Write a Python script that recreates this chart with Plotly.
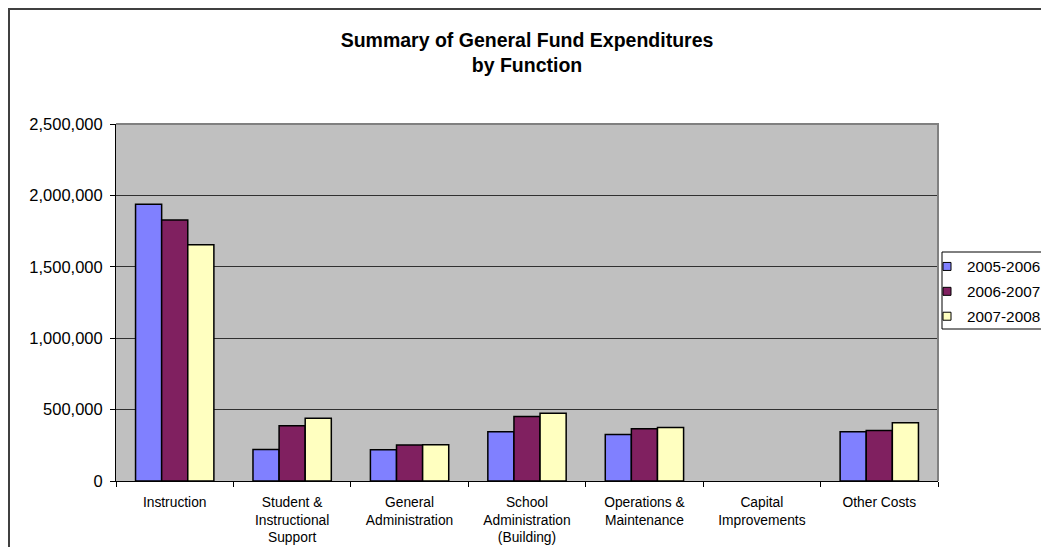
import plotly.graph_objects as go

# data
categories = ['Instruction', 'Student &<br>Instructional<br>Support', 'General<br>Administration',
              'School<br>Administration<br>(Building)', 'Operations &<br>Maintenance',
              'Capital<br>Improvements', 'Other Costs']
years = ['2005-2006', '2006-2007', '2007-2008']
fy2006 = [1938000, 221000, 219000, 345000, 326000, None, 345000]
fy2007 = [1828000, 387000, 252000, 452000, 366000, None, 354000]
fy2008 = [1655000, 440000, 254000, 475000, 375000, None, 408000]
y_ticks = [0, 500000, 1000000, 1500000, 2000000, 2500000]

colors = ['#8080FF', '#802060', '#FFFFC0']
font = 'Arial, Liberation Sans, sans-serif'

# the page body has an 8px margin, so work in page px and shift into figure px
OFF = 8
W, H = 1049 - OFF, 555 - 2 * OFF
L, R, T, B = 116 - OFF, 938 - OFF, 124 - OFF, 481 - OFF   # plot area in figure px

def px(x):
    return (x - OFF - L) / (R - L)

def py(y):
    return (B - (y - OFF)) / (B - T)

fig = go.Figure()
for name, vals, c in zip(years, [fy2006, fy2007, fy2008], colors):
    fig.add_trace(go.Bar(x=categories, y=vals, name=name, showlegend=False, legendgroup=name,
                         marker=dict(color=c, line=dict(color='black', width=1.5))))
# small square swatches for the legend, like the original
for name, c in zip(years, colors):
    fig.add_trace(go.Scatter(x=[None], y=[None], mode='markers', name=name, legendgroup=name,
                             marker=dict(symbol='square', size=8, color=c, line=dict(color='black', width=1))))

fig.update_layout(
    width=W, height=H,
    margin=dict(l=L, r=W - R, t=T, b=H - B, autoexpand=False),
    paper_bgcolor='white', plot_bgcolor='#C0C0C0',
    barmode='group', bargap=0.333, bargroupgap=0,
    font=dict(family=font, color='black'),
    title=dict(text='<b>Summary of General Fund Expenditures<br>by Function</b>',
               font=dict(size=19.5, family=font, color='black'),
               x=0.5, xref='paper', xanchor='center', y=1 - 39 / H, yref='container', yanchor='top'),
    legend=dict(x=px(927), y=py(250), xanchor='left', yanchor='top',
                bgcolor='rgba(0,0,0,0)', borderwidth=0, font=dict(size=15.3, family=font),
                itemwidth=30, tracegroupgap=2),
    showlegend=True,
)

fig.update_xaxes(showline=True, linecolor='black', linewidth=1, ticks='outside', tickson='boundaries',
                 ticklen=5, tickcolor='black', tickfont=dict(size=13.8), showgrid=False,
                 ticklabelstandoff=8)
fig.update_yaxes(range=[0, 2500000], tickvals=y_ticks, tickformat=',d', showline=True, linecolor='black',
                 linewidth=1, ticks='outside', ticklen=5, tickcolor='black', tickfont=dict(size=16.5),
                 showgrid=True, gridcolor='#303030', gridwidth=1, zeroline=False, ticklabelstandoff=4)

# gray plot border on top and right
fig.add_shape(type='path', xref='paper', yref='paper', layer='above',
              path='M 0,1 L 1,1 L 1,0', line=dict(color='#808080', width=2))
# legend box
fig.add_shape(type='rect', xref='paper', yref='paper', layer='above',
              x0=px(942), x1=px(1070), y0=py(329), y1=py(252),
              line=dict(color='black', width=1), fillcolor='white')
# chart frame (left and top edges)
fig.add_shape(type='path', xref='paper', yref='paper', layer='above',
              path=f'M {px(OFF + 1)},{py(600)} L {px(OFF + 1)},{py(OFF + 1)} L {px(1100)},{py(OFF + 1)}',
              line=dict(color='#404040', width=2))

fig.write_html('out.html')
